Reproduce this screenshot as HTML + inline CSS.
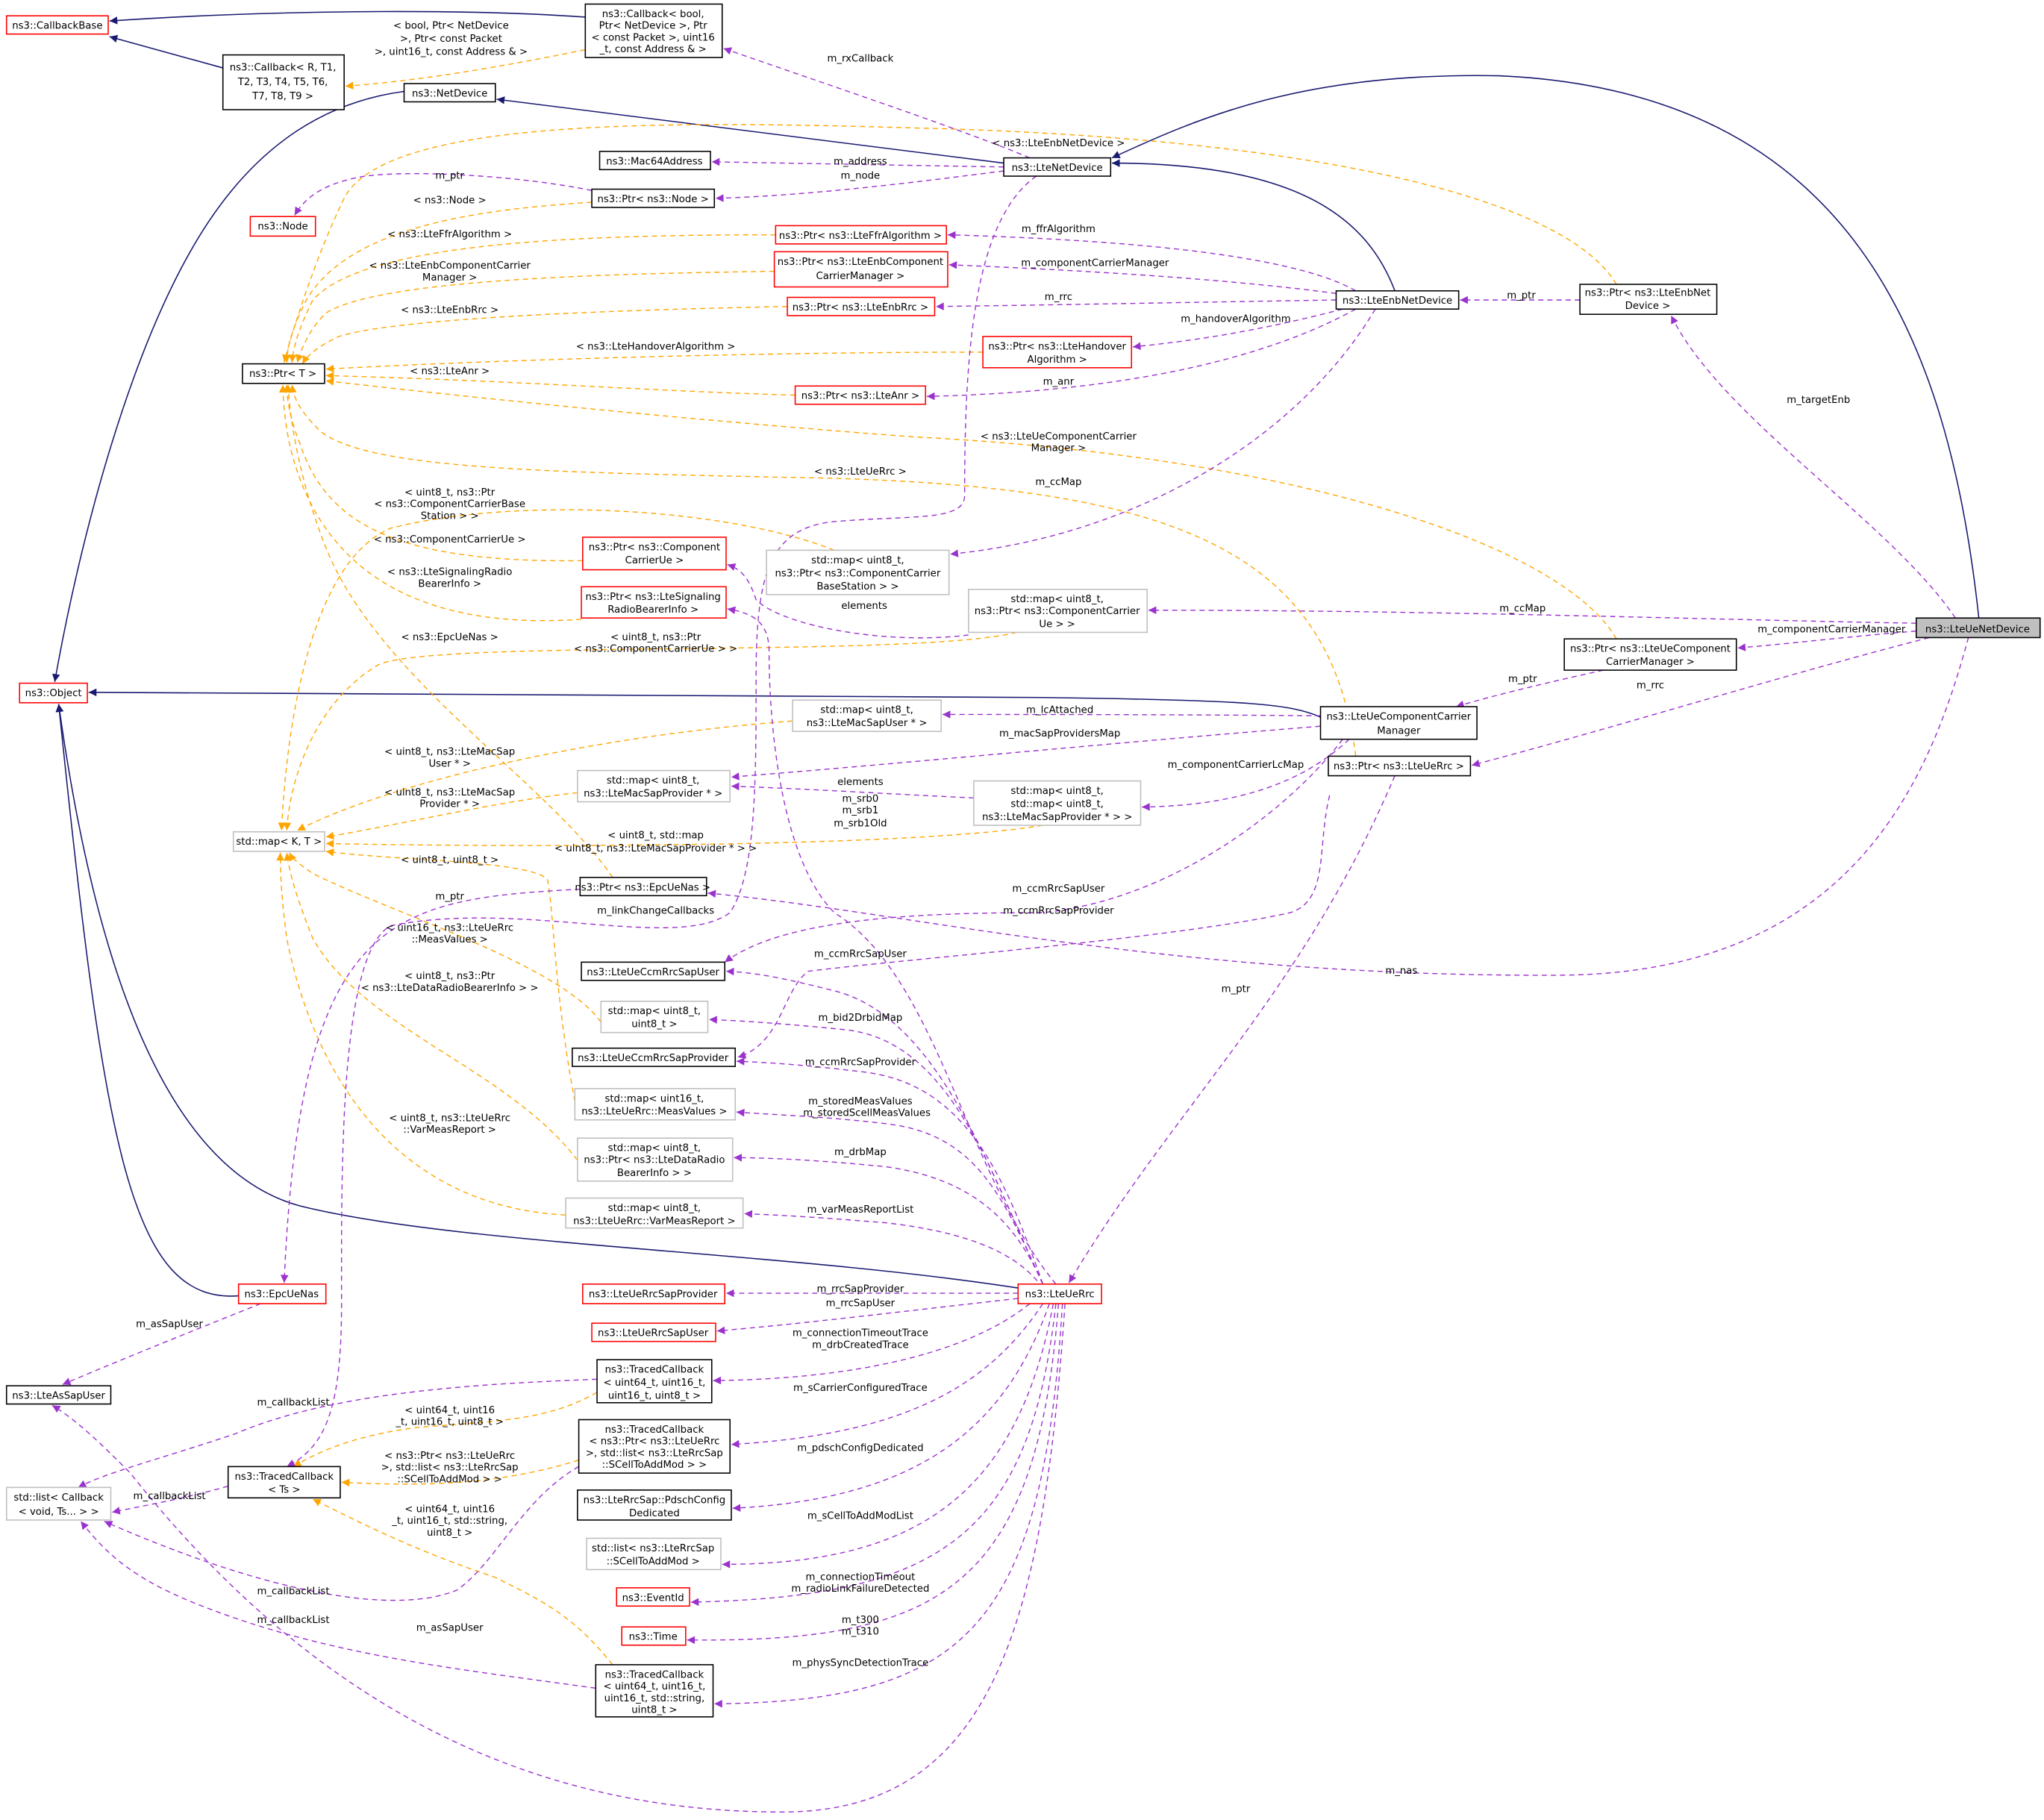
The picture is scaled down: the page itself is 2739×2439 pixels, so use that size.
<!DOCTYPE html>
<html><head><meta charset="utf-8">
<style>
html,body{margin:0;padding:0;background:#fff;}
svg{display:block;}
text{font-family:"DejaVu Sans","Liberation Sans",sans-serif;font-size:7.6px;fill:#000;}
.n rect{fill:#fff;stroke:#000;stroke-width:0.9;}
.r rect{stroke:#ff0000;}
.g rect{stroke:#bfbfbf;}
.c text{text-anchor:middle;}
.p{fill:none;stroke:#9a32cd;stroke-width:0.8;stroke-dasharray:4,3;marker-end:url(#mp);}
.o{fill:none;stroke:#ffa500;stroke-width:0.8;stroke-dasharray:4,3;marker-end:url(#mo);}
.b{fill:none;stroke:#191970;stroke-width:0.9;marker-end:url(#mb);}
.l{text-anchor:middle;}
</style></head><body>
<svg width="2739" height="2439" viewBox="0 0 1568 1396" xmlns="http://www.w3.org/2000/svg">
<defs>
<marker id="mp" viewBox="0 0 10 10" refX="10" refY="5" markerWidth="8" markerHeight="6" markerUnits="userSpaceOnUse" orient="auto"><path d="M0,0 L10,5 L0,10 z" fill="#9a32cd"/></marker>
<marker id="mo" viewBox="0 0 10 10" refX="10" refY="5" markerWidth="8" markerHeight="6" markerUnits="userSpaceOnUse" orient="auto"><path d="M0,0 L10,5 L0,10 z" fill="#ffa500"/></marker>
<marker id="mb" viewBox="0 0 10 10" refX="10" refY="5" markerWidth="8" markerHeight="6" markerUnits="userSpaceOnUse" orient="auto"><path d="M0,0 L10,5 L0,10 z" fill="#191970"/></marker>
</defs>

<!-- navy inheritance -->
<path class="b" d="M449,13 C350,6 200,8 84,16"/>
<path class="b" d="M171,52 L84,28"/>
<path class="b" d="M770,125 L381,76"/>
<path class="b" d="M310,70 C250,78 200,110 160,170 C100,260 60,420 42,523"/>
<path class="b" d="M1070,223 C1050,170 1000,125 853,125"/>
<path class="b" d="M1518,474 C1495,260 1420,70 1150,58 C1000,55 920,90 853,121"/>
<path class="b" d="M1013,550 C990,540 960,537 800,535 L68,531"/>
<path class="b" d="M781,988 C600,960 350,955 230,925 C120,895 70,720 45,540"/>
<path class="b" d="M183,994 C100,1000 80,880 45,540"/>

<!-- orange template edges -->
<path class="o" d="M449,38 C380,52 320,62 265,66"/>
<path class="o" d="M1240,218 C1200,150 1000,105 700,98 C500,92 300,92 265,150 C245,190 225,250 218,278"/>
<path class="o" d="M454,155 C380,160 270,170 235,230 C225,250 220,265 220,278"/>
<path class="o" d="M595,180 C450,180 280,185 240,230 C230,250 225,265 224,278"/>
<path class="o" d="M594,208 C450,210 290,215 250,240 C238,252 232,265 228,278"/>
<path class="o" d="M604,235 C450,238 300,245 260,258 C245,265 236,272 232,279"/>
<path class="o" d="M754,270 C600,270 400,275 250,283"/>
<path class="o" d="M610,303 C500,300 400,292 250,288"/>
<path class="o" d="M1240,490 C1200,420 1000,350 700,335 C500,320 320,300 250,292"/>
<path class="o" d="M1040,580 C1020,420 900,370 600,366 C420,362 280,360 245,330 C230,315 225,305 224,295"/>
<path class="o" d="M447,430 C300,432 250,400 230,340 C222,320 220,305 220,295"/>
<path class="o" d="M446,475 C300,485 240,420 222,340 C218,320 217,305 217,295"/>
<path class="o" d="M470,673 C420,600 290,520 250,420 C230,370 222,320 221,295"/>
<path class="o" d="M640,422 C560,390 400,380 300,405 C240,430 220,550 216,637"/>
<path class="o" d="M780,485 C700,505 330,490 290,510 C240,540 222,600 220,637"/>
<path class="o" d="M608,553 C450,565 300,600 228,637"/>
<path class="o" d="M443,608 C380,615 320,630 250,642"/>
<path class="o" d="M800,633 C700,650 400,650 250,647"/>
<path class="o" d="M461,784 C430,740 300,700 240,670 C228,662 224,658 222,654"/>
<path class="o" d="M441,845 C425,760 425,700 420,675 C410,660 300,660 250,653"/>
<path class="o" d="M443,890 C390,820 280,790 240,720 C228,690 222,670 220,654"/>
<path class="o" d="M434,932 C300,925 240,820 220,720 C216,690 215,670 215,654"/>
<path class="o" d="M458,1068 C420,1090 380,1090 320,1095 C280,1100 250,1110 225,1125"/>
<path class="o" d="M444,1120 C380,1140 320,1140 262,1137"/>
<path class="o" d="M470,1277 C440,1240 420,1230 380,1210 C320,1190 280,1170 240,1150"/>

<!-- purple usage edges -->
<path class="p" d="M790,121 C740,100 650,70 555,37"/>
<path class="p" d="M770,128 L546,124"/>
<path class="p" d="M770,131 C700,140 620,150 549,152"/>
<path class="p" d="M454,146 C400,135 320,130 280,135 C250,140 235,150 226,165"/>
<path class="p" d="M1040,223 C1000,200 900,185 727,180"/>
<path class="p" d="M1025,225 C950,215 850,208 728,203"/>
<path class="p" d="M1025,230 C900,232 800,234 718,235"/>
<path class="p" d="M1030,237 C980,250 930,260 869,266"/>
<path class="p" d="M1040,237 C980,270 880,300 711,304"/>
<path class="p" d="M1055,237 C1000,330 880,410 729,425"/>
<path class="p" d="M1212,230 L1120,230"/>
<path class="p" d="M1500,474 C1450,400 1320,320 1282,242"/>
<path class="p" d="M1470,478 C1300,475 1100,468 881,468"/>
<path class="p" d="M1470,484 C1420,488 1380,493 1333,497"/>
<path class="p" d="M1480,489 C1360,520 1250,555 1129,587"/>
<path class="p" d="M1510,489 C1480,600 1420,745 1200,748 C900,750 700,700 543,685"/>
<path class="p" d="M795,135 C745,170 740,280 740,380 C740,400 700,395 640,400 C590,405 580,440 580,520 C580,600 580,670 560,700 C520,730 400,690 300,710 C260,730 262,900 262,1000 C262,1080 250,1110 220,1125"/>
<path class="p" d="M1230,514 C1180,525 1140,535 1117,542"/>
<path class="p" d="M1013,549 C900,548 800,548 723,548"/>
<path class="p" d="M1013,557 C850,570 700,585 561,596"/>
<path class="p" d="M1035,567 C1000,600 950,618 876,619"/>
<path class="p" d="M747,612 C700,610 620,605 561,603"/>
<path class="p" d="M743,487 C680,495 600,480 580,460 C575,445 570,437 558,433"/>
<path class="p" d="M1030,567 C990,620 900,690 800,700 C700,700 600,705 556,738"/>
<path class="p" d="M1020,610 C1010,650 1020,690 990,700 C900,720 700,735 620,745 C600,760 600,800 566,811"/>
<path class="p" d="M1070,595 C1000,760 900,850 820,984"/>
<path class="p" d="M810,985 C740,900 720,750 640,700 C600,660 590,560 590,500 C590,475 575,470 558,467"/>
<path class="p" d="M800,985 C760,900 720,780 640,760 C600,750 580,746 557,745"/>
<path class="p" d="M800,985 C760,900 730,800 650,790 C600,785 570,783 544,782"/>
<path class="p" d="M800,985 C770,900 740,830 660,822 C620,817 590,815 565,814"/>
<path class="p" d="M800,985 C770,920 750,870 680,862 C630,856 590,855 565,853"/>
<path class="p" d="M800,985 C780,940 750,905 680,895 C630,890 590,888 563,888"/>
<path class="p" d="M800,988 C780,960 740,945 680,938 C630,934 600,932 571,931"/>
<path class="p" d="M781,992 L557,992"/>
<path class="p" d="M781,996 C700,1005 620,1015 550,1021"/>
<path class="p" d="M790,1000 C740,1040 650,1058 547,1059"/>
<path class="p" d="M800,1000 C760,1060 700,1100 561,1108"/>
<path class="p" d="M805,1000 C770,1100 700,1150 562,1157"/>
<path class="p" d="M808,1000 C780,1150 700,1200 554,1200"/>
<path class="p" d="M810,1000 C790,1180 720,1225 530,1229"/>
<path class="p" d="M812,1000 C795,1220 720,1260 527,1258"/>
<path class="p" d="M815,1000 C800,1250 740,1305 548,1307"/>
<path class="p" d="M817,1000 C800,1250 760,1390 600,1390 C420,1390 250,1320 100,1130 C80,1110 60,1090 40,1078"/>
<path class="p" d="M445,682 C300,690 230,700 218,984"/>
<path class="p" d="M200,1000 C150,1020 100,1040 48,1062"/>
<path class="p" d="M458,1058 C350,1062 250,1070 180,1100 C120,1120 80,1130 60,1141"/>
<path class="p" d="M175,1140 C140,1150 110,1155 86,1160"/>
<path class="p" d="M444,1125 C400,1150 380,1200 350,1220 C300,1240 200,1220 80,1167"/>
<path class="p" d="M457,1295 C350,1280 250,1270 150,1230 C100,1210 80,1190 62,1167"/>

<!-- labels -->
<g class="l">
<text x="346" y="22">&lt; bool, Ptr&lt; NetDevice</text>
<text x="346" y="32">&gt;, Ptr&lt; const Packet</text>
<text x="346" y="42">&gt;, uint16_t, const Address &amp; &gt;</text>
<text x="660" y="47">m_rxCallback</text>
<text x="812" y="112">&lt; ns3::LteEnbNetDevice &gt;</text>
<text x="660" y="126">m_address</text>
<text x="660" y="137">m_node</text>
<text x="345" y="137">m_ptr</text>
<text x="345" y="156">&lt; ns3::Node &gt;</text>
<text x="345" y="182">&lt; ns3::LteFfrAlgorithm &gt;</text>
<text x="812" y="178">m_ffrAlgorithm</text>
<text x="345" y="206">&lt; ns3::LteEnbComponentCarrier</text>
<text x="345" y="215">Manager &gt;</text>
<text x="840" y="204">m_componentCarrierManager</text>
<text x="812" y="230">m_rrc</text>
<text x="345" y="240">&lt; ns3::LteEnbRrc &gt;</text>
<text x="948" y="247">m_handoverAlgorithm</text>
<text x="1167" y="229">m_ptr</text>
<text x="503" y="268">&lt; ns3::LteHandoverAlgorithm &gt;</text>
<text x="345" y="287">&lt; ns3::LteAnr &gt;</text>
<text x="812" y="295">m_anr</text>
<text x="1395" y="309">m_targetEnb</text>
<text x="812" y="337">&lt; ns3::LteUeComponentCarrier</text>
<text x="812" y="346">Manager &gt;</text>
<text x="660" y="364">&lt; ns3::LteUeRrc &gt;</text>
<text x="812" y="372">m_ccMap</text>
<text x="345" y="380">&lt; uint8_t, ns3::Ptr</text>
<text x="345" y="389">&lt; ns3::ComponentCarrierBase</text>
<text x="345" y="398">Station &gt; &gt;</text>
<text x="345" y="416">&lt; ns3::ComponentCarrierUe &gt;</text>
<text x="345" y="441">&lt; ns3::LteSignalingRadio</text>
<text x="345" y="450">BearerInfo &gt;</text>
<text x="663" y="467">elements</text>
<text x="1168" y="469">m_ccMap</text>
<text x="1405" y="485">m_componentCarrierManager</text>
<text x="345" y="491">&lt; ns3::EpcUeNas &gt;</text>
<text x="503" y="491">&lt; uint8_t, ns3::Ptr</text>
<text x="503" y="500">&lt; ns3::ComponentCarrierUe &gt; &gt;</text>
<text x="1168" y="523">m_ptr</text>
<text x="1266" y="528">m_rrc</text>
<text x="813" y="547">m_lcAttached</text>
<text x="813" y="565">m_macSapProvidersMap</text>
<text x="345" y="579">&lt; uint8_t, ns3::LteMacSap</text>
<text x="345" y="588">User * &gt;</text>
<text x="948" y="589">m_componentCarrierLcMap</text>
<text x="660" y="602">elements</text>
<text x="345" y="610">&lt; uint8_t, ns3::LteMacSap</text>
<text x="345" y="619">Provider * &gt;</text>
<text x="660" y="615">m_srb0</text>
<text x="660" y="624">m_srb1</text>
<text x="660" y="634">m_srb1Old</text>
<text x="503" y="643">&lt; uint8_t, std::map</text>
<text x="503" y="653">&lt; uint8_t, ns3::LteMacSapProvider * &gt; &gt;</text>
<text x="345" y="662">&lt; uint8_t, uint8_t &gt;</text>
<text x="812" y="684">m_ccmRrcSapUser</text>
<text x="345" y="690">m_ptr</text>
<text x="503" y="701">m_linkChangeCallbacks</text>
<text x="812" y="701">m_ccmRrcSapProvider</text>
<text x="345" y="714">&lt; uint16_t, ns3::LteUeRrc</text>
<text x="345" y="723">::MeasValues &gt;</text>
<text x="660" y="734">m_ccmRrcSapUser</text>
<text x="1075" y="747">m_nas</text>
<text x="345" y="751">&lt; uint8_t, ns3::Ptr</text>
<text x="345" y="760">&lt; ns3::LteDataRadioBearerInfo &gt; &gt;</text>
<text x="948" y="761">m_ptr</text>
<text x="660" y="783">m_bid2DrbidMap</text>
<text x="660" y="817">m_ccmRrcSapProvider</text>
<text x="660" y="847">m_storedMeasValues</text>
<text x="665" y="856">m_storedScellMeasValues</text>
<text x="345" y="860">&lt; uint8_t, ns3::LteUeRrc</text>
<text x="345" y="869">::VarMeasReport &gt;</text>
<text x="660" y="886">m_drbMap</text>
<text x="660" y="930">m_varMeasReportList</text>
<text x="660" y="991">m_rrcSapProvider</text>
<text x="660" y="1002">m_rrcSapUser</text>
<text x="130" y="1018">m_asSapUser</text>
<text x="660" y="1025">m_connectionTimeoutTrace</text>
<text x="660" y="1034">m_drbCreatedTrace</text>
<text x="660" y="1067">m_sCarrierConfiguredTrace</text>
<text x="225" y="1078">m_callbackList</text>
<text x="345" y="1084">&lt; uint64_t, uint16</text>
<text x="345" y="1093">_t, uint16_t, uint8_t &gt;</text>
<text x="660" y="1113">m_pdschConfigDedicated</text>
<text x="345" y="1119">&lt; ns3::Ptr&lt; ns3::LteUeRrc</text>
<text x="345" y="1128">&gt;, std::list&lt; ns3::LteRrcSap</text>
<text x="345" y="1137">::SCellToAddMod &gt; &gt;</text>
<text x="130" y="1150">m_callbackList</text>
<text x="345" y="1160">&lt; uint64_t, uint16</text>
<text x="345" y="1169">_t, uint16_t, std::string,</text>
<text x="345" y="1178">uint8_t &gt;</text>
<text x="660" y="1165">m_sCellToAddModList</text>
<text x="660" y="1212">m_connectionTimeout</text>
<text x="660" y="1221">m_radioLinkFailureDetected</text>
<text x="225" y="1223">m_callbackList</text>
<text x="225" y="1245">m_callbackList</text>
<text x="345" y="1251">m_asSapUser</text>
<text x="660" y="1245">m_t300</text>
<text x="660" y="1254">m_t310</text>
<text x="660" y="1278">m_physSyncDetectionTrace</text>
</g>

<!-- nodes -->
<g class="n r c"><rect x="5" y="12" width="78" height="14"/><text x="44" y="22">ns3::CallbackBase</text></g>
<g class="n c"><rect x="171" y="42" width="93" height="42"/><text x="217" y="54">ns3::Callback&lt; R, T1,</text><text x="217" y="65">T2, T3, T4, T5, T6,</text><text x="217" y="76">T7, T8, T9 &gt;</text></g>
<g class="n c"><rect x="449" y="3" width="105" height="41"/><text x="501" y="13">ns3::Callback&lt; bool,</text><text x="501" y="22">Ptr&lt; NetDevice &gt;, Ptr</text><text x="501" y="31">&lt; const Packet &gt;, uint16</text><text x="501" y="40">_t, const Address &amp; &gt;</text></g>
<g class="n c"><rect x="310" y="64" width="70" height="14"/><text x="345" y="74">ns3::NetDevice</text></g>
<g class="n c"><rect x="460" y="116" width="85" height="14"/><text x="502" y="126">ns3::Mac64Address</text></g>
<g class="n c"><rect x="770" y="121" width="82" height="14"/><text x="811" y="131">ns3::LteNetDevice</text></g>
<g class="n c"><rect x="454" y="145" width="94" height="14"/><text x="501" y="155">ns3::Ptr&lt; ns3::Node &gt;</text></g>
<g class="n r c"><rect x="192" y="166" width="50" height="15"/><text x="217" y="176">ns3::Node</text></g>
<g class="n r c"><rect x="595" y="173" width="131" height="14"/><text x="660" y="183">ns3::Ptr&lt; ns3::LteFfrAlgorithm &gt;</text></g>
<g class="n r c"><rect x="594" y="193" width="133" height="27"/><text x="660" y="203">ns3::Ptr&lt; ns3::LteEnbComponent</text><text x="660" y="214">CarrierManager &gt;</text></g>
<g class="n r c"><rect x="604" y="228" width="113" height="14"/><text x="660" y="238">ns3::Ptr&lt; ns3::LteEnbRrc &gt;</text></g>
<g class="n c"><rect x="1025" y="223" width="94" height="14"/><text x="1072" y="233">ns3::LteEnbNetDevice</text></g>
<g class="n c"><rect x="1212" y="218" width="105" height="23"/><text x="1264" y="227">ns3::Ptr&lt; ns3::LteEnbNet</text><text x="1264" y="237">Device &gt;</text></g>
<g class="n c"><rect x="186" y="279" width="63" height="15"/><text x="217" y="289">ns3::Ptr&lt; T &gt;</text></g>
<g class="n r c"><rect x="754" y="258" width="114" height="24"/><text x="811" y="268">ns3::Ptr&lt; ns3::LteHandover</text><text x="811" y="278">Algorithm &gt;</text></g>
<g class="n r c"><rect x="610" y="296" width="100" height="14"/><text x="660" y="306">ns3::Ptr&lt; ns3::LteAnr &gt;</text></g>
<g class="n r c"><rect x="447" y="412" width="110" height="25"/><text x="502" y="422">ns3::Ptr&lt; ns3::Component</text><text x="502" y="432">CarrierUe &gt;</text></g>
<g class="n g c"><rect x="588" y="422" width="140" height="34"/><text x="658" y="432">std::map&lt; uint8_t,</text><text x="658" y="442">ns3::Ptr&lt; ns3::ComponentCarrier</text><text x="658" y="452">BaseStation &gt; &gt;</text></g>
<g class="n r c"><rect x="446" y="450" width="111" height="24"/><text x="501" y="460">ns3::Ptr&lt; ns3::LteSignaling</text><text x="501" y="470">RadioBearerInfo &gt;</text></g>
<g class="n g c"><rect x="743" y="452" width="137" height="33"/><text x="811" y="462">std::map&lt; uint8_t,</text><text x="811" y="471">ns3::Ptr&lt; ns3::ComponentCarrier</text><text x="811" y="481">Ue &gt; &gt;</text></g>
<g class="n c"><rect x="1470" y="474" width="95" height="15" style="fill:#bfbfbf"/><text x="1517" y="485">ns3::LteUeNetDevice</text></g>
<g class="n c"><rect x="1200" y="490" width="132" height="24"/><text x="1266" y="500">ns3::Ptr&lt; ns3::LteUeComponent</text><text x="1266" y="510">CarrierManager &gt;</text></g>
<g class="n r c"><rect x="15" y="524" width="52" height="15"/><text x="41" y="534">ns3::Object</text></g>
<g class="n c"><rect x="1013" y="542" width="120" height="25"/><text x="1073" y="552">ns3::LteUeComponentCarrier</text><text x="1073" y="563">Manager</text></g>
<g class="n g c"><rect x="608" y="537" width="114" height="24"/><text x="665" y="547">std::map&lt; uint8_t,</text><text x="665" y="557">ns3::LteMacSapUser * &gt;</text></g>
<g class="n c"><rect x="1019" y="580" width="109" height="15"/><text x="1073" y="590">ns3::Ptr&lt; ns3::LteUeRrc &gt;</text></g>
<g class="n g c"><rect x="443" y="591" width="117" height="24"/><text x="501" y="601">std::map&lt; uint8_t,</text><text x="501" y="611">ns3::LteMacSapProvider * &gt;</text></g>
<g class="n g c"><rect x="747" y="599" width="128" height="34"/><text x="811" y="609">std::map&lt; uint8_t,</text><text x="811" y="619">std::map&lt; uint8_t,</text><text x="811" y="629">ns3::LteMacSapProvider * &gt; &gt;</text></g>
<g class="n g c"><rect x="179" y="638" width="70" height="15"/><text x="214" y="648">std::map&lt; K, T &gt;</text></g>
<g class="n c"><rect x="445" y="673" width="97" height="14"/><text x="493" y="683">ns3::Ptr&lt; ns3::EpcUeNas &gt;</text></g>
<g class="n c"><rect x="446" y="738" width="110" height="14"/><text x="501" y="748">ns3::LteUeCcmRrcSapUser</text></g>
<g class="n g c"><rect x="461" y="768" width="82" height="24"/><text x="502" y="778">std::map&lt; uint8_t,</text><text x="502" y="788">uint8_t &gt;</text></g>
<g class="n c"><rect x="439" y="804" width="125" height="14"/><text x="501" y="814">ns3::LteUeCcmRrcSapProvider</text></g>
<g class="n g c"><rect x="441" y="835" width="123" height="24"/><text x="502" y="845">std::map&lt; uint16_t,</text><text x="502" y="855">ns3::LteUeRrc::MeasValues &gt;</text></g>
<g class="n g c"><rect x="443" y="873" width="119" height="33"/><text x="502" y="883">std::map&lt; uint8_t,</text><text x="502" y="892">ns3::Ptr&lt; ns3::LteDataRadio</text><text x="502" y="902">BearerInfo &gt; &gt;</text></g>
<g class="n g c"><rect x="434" y="919" width="136" height="23"/><text x="502" y="929">std::map&lt; uint8_t,</text><text x="502" y="939">ns3::LteUeRrc::VarMeasReport &gt;</text></g>
<g class="n r c"><rect x="781" y="985" width="64" height="15"/><text x="813" y="995">ns3::LteUeRrc</text></g>
<g class="n r c"><rect x="183" y="985" width="67" height="15"/><text x="216" y="995">ns3::EpcUeNas</text></g>
<g class="n r c"><rect x="447" y="985" width="109" height="15"/><text x="501" y="995">ns3::LteUeRrcSapProvider</text></g>
<g class="n r c"><rect x="454" y="1015" width="95" height="14"/><text x="501" y="1025">ns3::LteUeRrcSapUser</text></g>
<g class="n c"><rect x="5" y="1063" width="80" height="14"/><text x="45" y="1073">ns3::LteAsSapUser</text></g>
<g class="n c"><rect x="458" y="1043" width="88" height="33"/><text x="502" y="1053">ns3::TracedCallback</text><text x="502" y="1063">&lt; uint64_t, uint16_t,</text><text x="502" y="1073">uint16_t, uint8_t &gt;</text></g>
<g class="n c"><rect x="444" y="1089" width="116" height="41"/><text x="502" y="1099">ns3::TracedCallback</text><text x="502" y="1108">&lt; ns3::Ptr&lt; ns3::LteUeRrc</text><text x="502" y="1117">&gt;, std::list&lt; ns3::LteRrcSap</text><text x="502" y="1126">::SCellToAddMod &gt; &gt;</text></g>
<g class="n c"><rect x="175" y="1125" width="86" height="24"/><text x="218" y="1135">ns3::TracedCallback</text><text x="218" y="1145">&lt; Ts &gt;</text></g>
<g class="n g c"><rect x="5" y="1141" width="80" height="25"/><text x="45" y="1151">std::list&lt; Callback</text><text x="45" y="1162">&lt; void, Ts... &gt; &gt;</text></g>
<g class="n c"><rect x="443" y="1143" width="118" height="23"/><text x="502" y="1153">ns3::LteRrcSap::PdschConfig</text><text x="502" y="1163">Dedicated</text></g>
<g class="n g c"><rect x="450" y="1180" width="103" height="24"/><text x="501" y="1190">std::list&lt; ns3::LteRrcSap</text><text x="501" y="1200">::SCellToAddMod &gt;</text></g>
<g class="n r c"><rect x="473" y="1218" width="56" height="14"/><text x="501" y="1228">ns3::EventId</text></g>
<g class="n r c"><rect x="477" y="1248" width="49" height="14"/><text x="501" y="1258">ns3::Time</text></g>
<g class="n c"><rect x="457" y="1277" width="90" height="40"/><text x="502" y="1287">ns3::TracedCallback</text><text x="502" y="1296">&lt; uint64_t, uint16_t,</text><text x="502" y="1305">uint16_t, std::string,</text><text x="502" y="1314">uint8_t &gt;</text></g>
</svg>
</body></html>
